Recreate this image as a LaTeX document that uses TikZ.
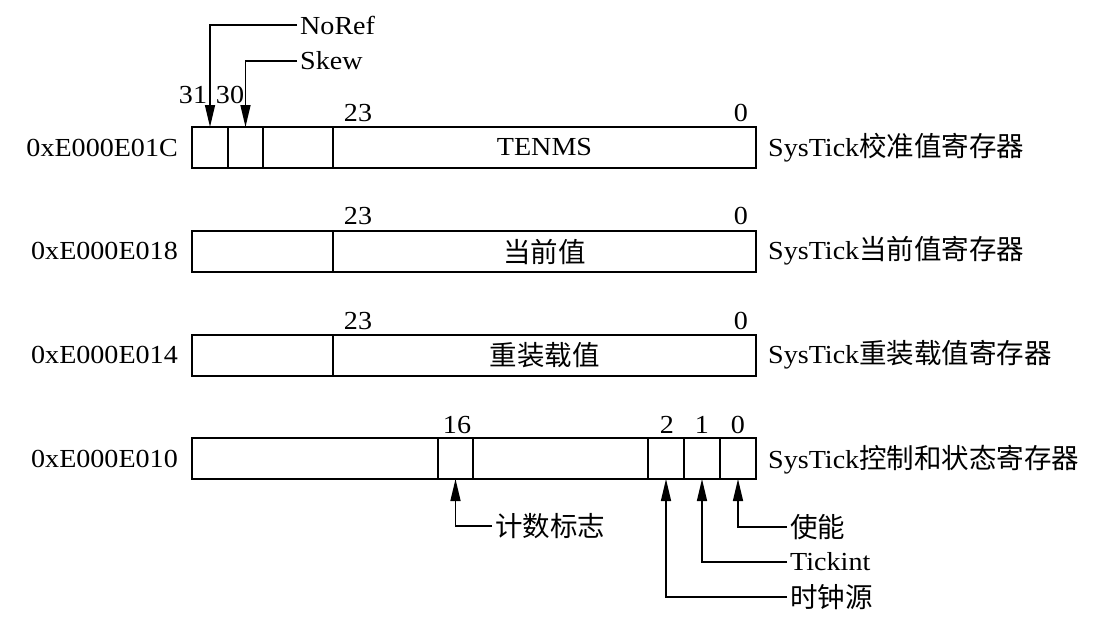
\documentclass[tikz,border=0pt]{standalone}
\usepackage{fontspec}
\setmainfont{Liberation Serif}[FakeStretch=1.08]
\newfontfamily\cjk{Noto Sans CJK SC}
\usetikzlibrary{arrows.meta}
\tikzset{
  fld/.style={draw, line width=1.7pt, minimum height=41pt, inner sep=0pt, outer sep=0pt, anchor=north west},
  lbl/.style={font=\fontsize{26}{28}\selectfont, inner sep=0pt},
  tag/.style={font=\fontsize{26}{28}\selectfont, inner sep=3pt, anchor=west},
  ptr/.style={line width=1.5pt, -{Triangle[length=22pt,width=10pt]}},
}
\newcommand{\cj}[1]{{\cjk\fontsize{27.5}{28}\selectfont #1}}
\begin{document}
\begin{tikzpicture}[x=1pt,y=-1pt]
\useasboundingbox (0,0) rectangle (1112,622);
% Row 1: calibration
\node[fld, minimum width=36pt] (a31) at (192,127) {};
\node[fld, minimum width=35pt] (a30) at (228,127) {};
\node[fld, minimum width=70pt] (a29) at (263,127) {};
\node[fld, minimum width=423pt] (aten) at (333,127) {};
\node[lbl] (atxt) at (aten.center) {TENMS};
\node[lbl, anchor=east] (aaddr) at (178,148) {0xE000E01C};
\node[lbl, anchor=west] (aname) at (768,148) {SysTick\cj{校准值寄存器}};
\node[lbl] (ab31) at (193,95) {31};
\node[lbl] (ab30) at (230,95) {30};
\node[lbl] (ab23) at (358,113) {23};
\node[lbl] (ab0) at (741,113) {0};
\node[tag] (noref) at (297,25) {NoRef};
\node[tag] (skew) at (297,61) {Skew};
\draw[ptr] (noref.west) -| (a31.north);
\draw[ptr] (skew.west) -| (a30.north);
% Row 2: current value
\node[fld, minimum width=141pt] (b1) at (192,231) {};
\node[fld, minimum width=423pt] (b2) at (333,231) {};
\node[lbl] (btxt) at (b2.center) {\cj{当前值}};
\node[lbl, anchor=east] (baddr) at (178,251) {0xE000E018};
\node[lbl, anchor=west] (bname) at (768,251) {SysTick\cj{当前值寄存器}};
\node[lbl] (bb23) at (358,216) {23};
\node[lbl] (bb0) at (741,216) {0};
% Row 3: reload value
\node[fld, minimum width=141pt] (c1) at (192,335) {};
\node[fld, minimum width=423pt] (c2) at (333,335) {};
\node[lbl] (ctxt) at (c2.center) {\cj{重装载值}};
\node[lbl, anchor=east] (caddr) at (178,355) {0xE000E014};
\node[lbl, anchor=west] (cname) at (768,355) {SysTick\cj{重装载值寄存器}};
\node[lbl] (cb23) at (358,321) {23};
\node[lbl] (cb0) at (741,321) {0};
% Row 4: control and status
\node[fld, minimum width=246pt] (d1) at (192,438) {};
\node[fld, minimum width=35pt] (d16) at (438,438) {};
\node[fld, minimum width=175pt] (d3) at (473,438) {};
\node[fld, minimum width=36pt] (d2) at (648,438) {};
\node[fld, minimum width=36pt] (dbit1) at (684,438) {};
\node[fld, minimum width=36pt] (dbit0) at (720,438) {};
\node[lbl, anchor=east] (daddr) at (178,459) {0xE000E010};
\node[lbl, anchor=west] (dname) at (768,460) {SysTick\cj{控制和状态寄存器}};
\node[lbl] (db16) at (457,425) {16};
\node[lbl] (db2) at (667,425) {2};
\node[lbl] (db1) at (702,425) {1};
\node[lbl] (db0) at (738,425) {0};
\node[tag] (cnt) at (492,526) {\cj{计数标志}};
\node[tag] (en) at (787,527) {\cj{使能}};
\node[tag] (tick) at (787,562) {Tickint};
\node[tag] (clk) at (787,597) {\cj{时钟源}};
\draw[ptr] (cnt.west) -| (d16.south);
\draw[ptr] (en.west) -| (dbit0.south);
\draw[ptr] (tick.west) -| (dbit1.south);
\draw[ptr] (clk.west) -| (d2.south);
\end{tikzpicture}
\end{document}
